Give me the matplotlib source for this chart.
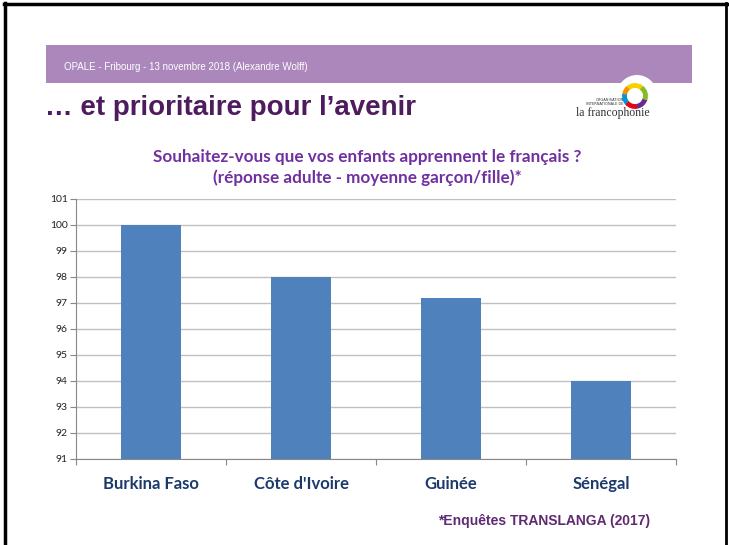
import matplotlib
matplotlib.use("Agg")
import matplotlib.pyplot as plt
from matplotlib.patches import Rectangle, Circle, Arc

pays = ["Burkina Faso", "Côte d'Ivoire", "Guinée", "Sénégal"]
valeurs = [100, 98, 97.2, 94]
graduations = [91, 92, 93, 94, 95, 96, 97, 98, 99, 100, 101]

W, H = 729, 545
fig = plt.figure(figsize=(W / 100, H / 100), dpi=100)

# fond de la diapo (coordonnees en pixels)
bg = fig.add_axes([0, 0, 1, 1])
bg.set_xlim(0, W)
bg.set_ylim(H, 0)
bg.axis('off')

bg.plot([5, 5], [3, H], color='black', lw=2.5)
bg.plot([4, 727], [4, 4], color='black', lw=2.5)
bg.plot([726, 726], [3, H], color='black', lw=2)

bg.add_patch(Rectangle((46, 45), 646, 38, color='#ab87bb', lw=0))
bg.text(64, 67, "OPALE - Fribourg - 13 novembre 2018 (Alexandre Wolff)",
        color='white', fontsize=7, family='Liberation Sans', va='center')

bg.text(45, 108, "… et prioritaire pour l’avenir", color='#4e1b5e',
        fontsize=20, fontweight='bold', family=['Liberation Sans Narrow', 'Liberation Sans'],
        va='center', fontstretch='condensed')

# logo (axe y inverse -> angles negatifs)
bg.add_patch(Circle((637, 95), 20, color='white', lw=0))
arcs_logo = [('#f7d000', 50, 130), ('#f39200', 130, 170), ('#0098d8', 170, 220),
             ('#e30613', 220, 280), ('#6a2c91', 280, 340), ('#86bc25', 340, 410)]
for c, t1, t2 in arcs_logo:
    bg.add_patch(Arc((635, 96), 21, 21, theta1=-t2 - 2, theta2=-t1, color=c, lw=3.5))
bg.text(624, 100, "ORGANISATION", fontsize=2.6, ha='right', va='center', color='#333333')
bg.text(624, 104, "INTERNATIONALE DE", fontsize=2.6, ha='right', va='center', color='#333333')
bg.text(613, 113, "la francophonie", fontsize=8.5, ha='center', va='center',
        color='#333333', family='Liberation Serif')

bg.text(367, 157, "Souhaitez-vous que vos enfants apprennent le français ?",
        color='#7030a0', fontsize=12.3, fontweight='bold', family='Lato', ha='center', va='center')
bg.text(367, 178, "(réponse adulte - moyenne garçon/fille)*",
        color='#7030a0', fontsize=12.3, fontweight='bold', family='Lato', ha='center', va='center')

bg.text(544, 521, "*Enquêtes TRANSLANGA (2017)", color='#5f2a72', fontsize=10,
        fontweight='bold', family='Liberation Sans', ha='center', va='center')

# graphique
ax = fig.add_axes([76 / W, (H - 459) / H, 600 / W, 260 / H])
x = range(len(pays))
ax.bar(x, [v - 91 for v in valeurs], bottom=91, width=0.4, color='#4f81bd', zorder=3)
ax.set_xlim(-0.5, len(pays) - 0.5)
ax.set_ylim(91, 101)
ax.set_yticks(graduations)
ax.set_yticklabels([str(g) for g in graduations], fontsize=7.5, family='Lato', color='#222222')
ax.yaxis.grid(True, color='#c0c0c0', lw=1, zorder=0)
ax.set_xticks([i - 0.5 for i in range(len(pays) + 1)], minor=False)
ax.set_xticklabels([])
ax.set_xticks(list(x), minor=True)
ax.set_xticklabels(pays, minor=True, fontsize=12, fontweight='bold', family='Lato', color='#1b3a6b')
ax.tick_params(axis='x', which='minor', length=0, pad=12)
ax.tick_params(axis='x', which='major', length=4, color='#888888')
ax.tick_params(axis='y', length=4, color='#888888', pad=2)
for s in ['top', 'right']:
    ax.spines[s].set_visible(False)
for s in ['left', 'bottom']:
    ax.spines[s].set_color('#888888')

fig.savefig("out.png", dpi=100)
